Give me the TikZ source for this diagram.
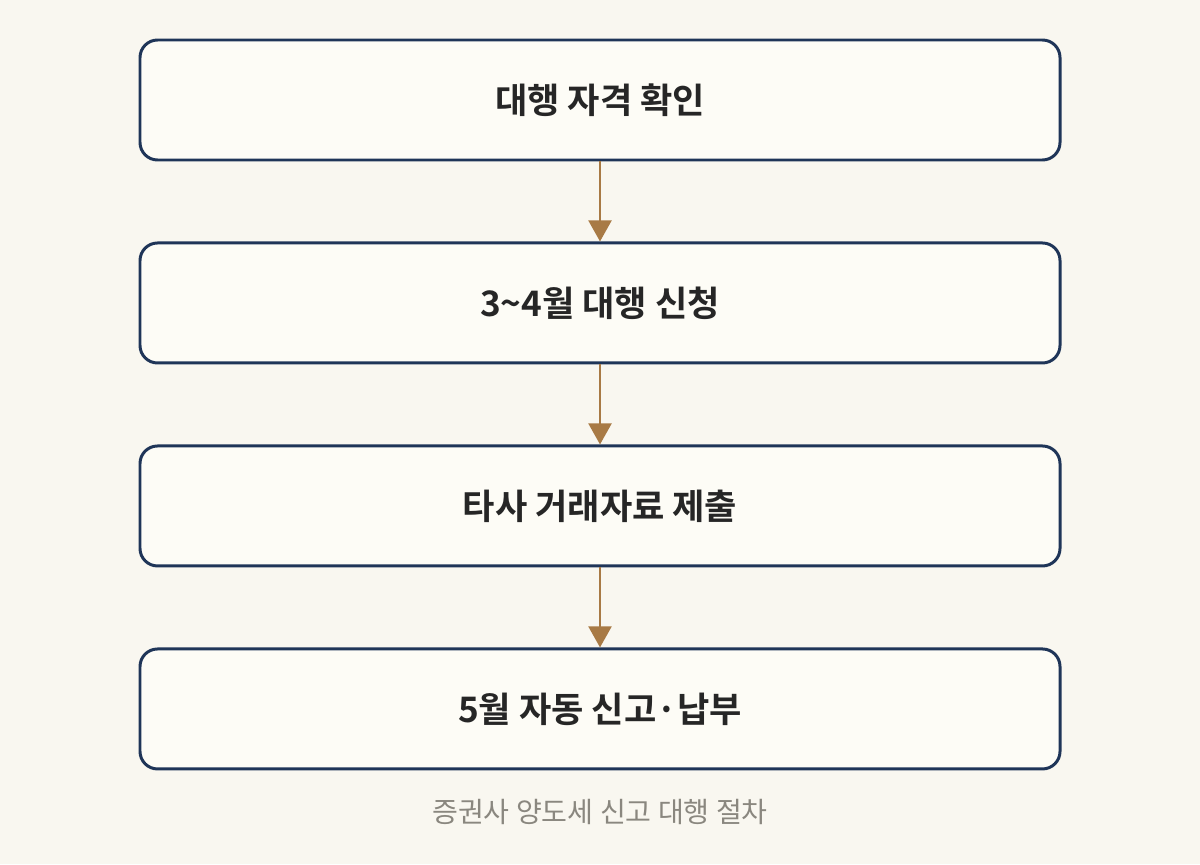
\documentclass[tikz,border=0pt]{standalone}
\usepackage{fontspec}
\setmainfont{Noto Sans CJK KR}
\newfontfamily\boldkr{Noto Sans CJK KR Bold}
\usetikzlibrary{arrows.meta}
\usetikzlibrary{positioning}
\definecolor{mnavy}{HTML}{1F3558}
\definecolor{mbrown}{HTML}{A87A45}
\definecolor{mbg}{HTML}{F9F7F0}
\definecolor{mbox}{HTML}{FDFCF6}
\definecolor{mgray}{HTML}{8A877F}
\tikzset{stepbox/.style = {draw=mnavy, line width=1.7pt, fill=mbox, rounded corners=10pt,
    minimum width=18.4cm, minimum height=2.4cm, font=\boldkr\fontsize{20}{24}\selectfont, text=black!85}}
\tikzset{flow/.style = {mbrown, line width=1.6pt, -{Triangle[length=12pt, width=13pt]}}}

\begin{document}
\begin{tikzpicture}[node distance=1.6cm]
    \fill [mbg] (0, 0) rectangle (24, 17.28);
    \useasboundingbox (0, 0) rectangle (24, 17.28);

    \node [stepbox] (check) at (12, 15.28) {대행 자격 확인};
    \node [stepbox, below=of check] (apply) {3\textasciitilde4월 대행 신청};
    \node [stepbox, below=of apply] (submit) {타사 거래자료 제출};
    \node [stepbox, below=of submit] (report) {5월 자동 신고·납부};

    \draw [flow] (check) -- (apply);
    \draw [flow] (apply) -- (submit);
    \draw [flow] (submit) -- (report);

    \node [mgray, font=\fontsize{16}{20}\selectfont] (caption) at (12, 1.04) {증권사 양도세 신고 대행 절차};
  \end{tikzpicture}
\end{document}
